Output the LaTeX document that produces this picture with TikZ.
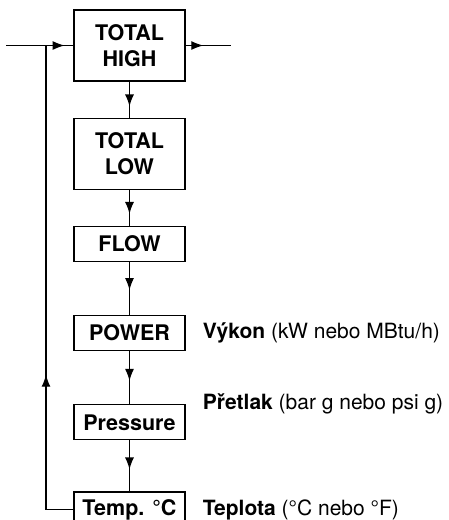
\documentclass[tikz,border=0pt]{standalone}
\usepackage{fontspec}
\setmainfont{TeX Gyre Heros}
\usetikzlibrary{arrows.meta, positioning, decorations.markings}

\begin{document}
\begin{tikzpicture}[
    x=1pt, y=1pt,
    node distance=36pt,
    every node/.style={font=\fontsize{21.5}{26}\selectfont\bfseries},
    block/.style={rectangle, draw, line width=1.2pt, minimum width=111pt, minimum height=35pt, inner sep=0pt, align=center},
    tallblock/.style={block, minimum height=71pt},
    note/.style={font=\fontsize{21}{24}\selectfont, inner sep=0pt, anchor=west},
    line/.style={line width=1.2pt},
    midarr/.style={line, postaction={decorate}, decoration={markings,
        mark=at position #1 with {\arrow{Latex[length=12pt, width=9pt]}}}},
]
\useasboundingbox (0,0) rectangle (449,-520);

% ── Counters ──
\node[tallblock] (high) at (129.5,-45.5) {TOTAL\\HIGH};
\node[tallblock, below=of high] (low) {TOTAL\\LOW};
\node[block, below=of low] (flow) {FLOW};

% ── Measured values ──
\node[block, below=53pt of flow] (power) {POWER};
\node[block, below=53pt of power] (press) {Pressure};
\node[block, below=51pt of press] (temp) {Temp. °C};

% ── Notes ──
\node[note, right=17pt of power] (pnote) {\textbf{Výkon} (kW nebo MBtu/h)};
\node[note, right=17pt of press.north east] (dnote) {\textbf{Přetlak} (bar g nebo psi g)};
\node[note, right=17pt of temp] (tnote) {\textbf{Teplota} (°C nebo °F)};

% ── Loop points ──
\coordinate (in) at (6,-45.5);
\coordinate (fb) at (46,-45.5);
\coordinate (out) at (231,-45.5);

% ── Arrows ──
\draw[line] (in) -- (fb);
\draw[midarr=0.68] (fb) -- (high.west);
\draw[midarr=0.39] (high.east) -- (out);
\draw[midarr=0.69] (high) -- (low);
\draw[midarr=0.67] (low) -- (flow);
\draw[midarr=0.53] (flow) -- (power);
\draw[midarr=0.56] (power) -- (press);
\draw[midarr=0.57] (press) -- (temp);
\draw[midarr=0.33] (temp.west) -| (fb);

\end{tikzpicture}
\end{document}
